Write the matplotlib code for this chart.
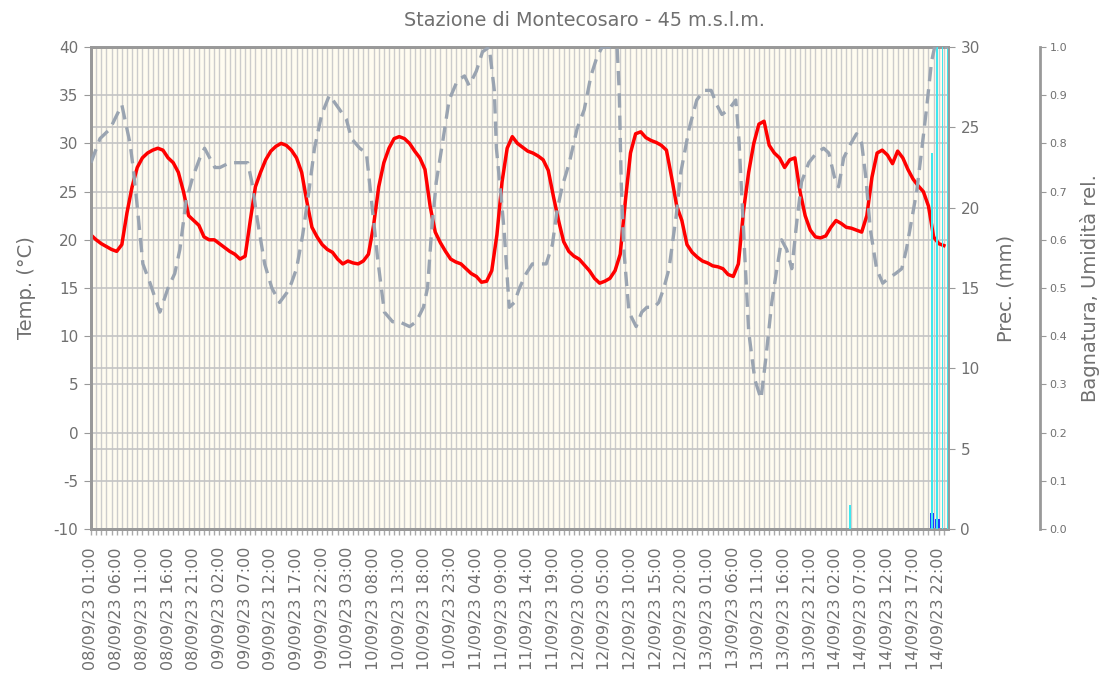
import numpy as np
import pandas as pd
import matplotlib
matplotlib.use('Agg')
import matplotlib.pyplot as plt
from matplotlib.ticker import MultipleLocator, FixedLocator

plt.rc('font', family='DejaVu Sans')
plt.rc('axes', unicode_minus=False)

# hourly temperature, starting 08/09/23 01:00
temp = [20.5, 20.0, 19.6, 19.3, 19.0, 18.8, 19.5, 22.8, 25.5, 27.5, 28.5, 29.0,
        29.3, 29.5, 29.3, 28.5, 28.0, 27.0, 25.0, 22.5, 22.0, 21.5, 20.3, 20.0,
        20.0, 19.6, 19.2, 18.8, 18.5, 18.0, 18.3, 22.0, 25.5, 27.0, 28.3, 29.2,
        29.7, 30.0, 29.8, 29.3, 28.5, 27.0, 24.0, 21.3, 20.3, 19.5, 19.0, 18.7,
        18.0, 17.5, 17.8, 17.6, 17.5, 17.8, 18.5, 21.5, 25.5, 28.0, 29.5, 30.5,
        30.7, 30.5, 30.0, 29.2, 28.5, 27.3, 23.5, 20.8, 19.7, 18.8, 18.0, 17.7,
        17.5, 17.0, 16.5, 16.2, 15.6, 15.7, 16.8, 20.5, 26.0, 29.5, 30.7, 30.0,
        29.6, 29.2, 29.0, 28.7, 28.3, 27.2, 24.5, 22.0, 19.8, 18.8, 18.3, 18.0,
        17.4, 16.8, 16.0, 15.5, 15.7, 16.0, 16.8, 18.5, 24.0, 29.0, 31.0, 31.2,
        30.6, 30.3, 30.1, 29.8, 29.3, 26.5, 23.5, 22.0, 19.5, 18.7, 18.2, 17.8,
        17.6, 17.3, 17.2, 17.0, 16.4, 16.2, 17.5, 23.0, 27.0, 30.0, 32.0, 32.3,
        29.8, 29.0, 28.5, 27.5, 28.3, 28.5, 25.0, 22.5, 21.0, 20.3, 20.2, 20.4,
        21.3, 22.0, 21.7, 21.3, 21.2, 21.0, 20.8, 22.5, 26.5, 29.0, 29.3, 28.8,
        27.9, 29.2, 28.5, 27.3, 26.3, 25.6, 25.0, 23.5, 20.3, 19.6, 19.4]

# relative humidity (0-1), read at these hours
hum_hours = [0, 1.75, 3.7, 6, 7.6, 8.2, 8.9, 10.1, 11.5, 13.4,
             15, 16.3, 17.3, 18.5, 19.8, 21.2, 22.1, 23.1, 24.1, 25.1,
             27, 28.9, 30.5, 31.3, 32.4, 33.8, 35.2, 36.7, 38.1, 39,
             40, 41.2, 42.4, 43.5, 44.9, 46.4, 48.4, 49.7, 50.7, 52.3,
             53.6, 54.6, 55.8, 57.1, 58.7, 60, 62, 63.3, 64.7, 65.5,
             66.3, 67.2, 68.4, 69.7, 71.3, 72.7, 73.6, 75, 76.2, 77.5,
             78.5, 78.9, 79.9, 80.4, 81.4, 82.4, 83.4, 84.7, 85.9, 87.2,
             88.6, 89.8, 90.7, 91.7, 93.1, 94.6, 96, 97.3, 98.5, 99.5,
             100.8, 102.4, 102.8, 103.2, 103.7, 104.7, 106.1, 107.2, 108.2, 109.6,
             110.5, 111.5, 112.5, 113.9, 114.8, 116.4, 117.9, 119.3, 120.7, 121.8,
             122.8, 124.1, 125.5, 126.1, 127.1, 128, 129.2, 130.4, 131.3, 132.5,
             133.5, 134.4, 135.4, 136.4, 137.4, 138.3, 139.7, 141.2, 142.6, 143.6,
             144.7, 145.5, 146.5, 147.9, 149, 150, 150.8, 151.7, 152.9, 154.1,
             155.2, 156.6, 157.8, 158.7, 159.7, 160.7, 161.5, 162.6, 163.6, 164.2,
             166.8]
hum_vals = [0.76, 0.81, 0.83, 0.88, 0.80, 0.75, 0.68, 0.55, 0.51, 0.45,
            0.50, 0.53, 0.58, 0.68, 0.73, 0.77, 0.79, 0.77, 0.75, 0.75,
            0.76, 0.76, 0.76, 0.72, 0.64, 0.55, 0.50, 0.47, 0.49, 0.51,
            0.54, 0.61, 0.70, 0.79, 0.86, 0.90, 0.87, 0.85, 0.81, 0.79,
            0.78, 0.68, 0.56, 0.45, 0.43, 0.43, 0.42, 0.43, 0.46, 0.50,
            0.62, 0.72, 0.80, 0.89, 0.93, 0.94, 0.92, 0.95, 0.99, 1.00,
            0.91, 0.79, 0.68, 0.62, 0.46, 0.47, 0.50, 0.53, 0.55, 0.55,
            0.55, 0.59, 0.66, 0.71, 0.76, 0.83, 0.87, 0.94, 0.98, 1.00,
            1.00, 1.00, 0.91, 0.72, 0.58, 0.45, 0.42, 0.45, 0.46, 0.46,
            0.47, 0.50, 0.54, 0.65, 0.74, 0.83, 0.89, 0.91, 0.91, 0.88,
            0.86, 0.87, 0.89, 0.81, 0.60, 0.41, 0.31, 0.27, 0.35, 0.47,
            0.54, 0.60, 0.58, 0.54, 0.64, 0.72, 0.76, 0.78, 0.79, 0.78,
            0.73, 0.71, 0.77, 0.80, 0.82, 0.80, 0.73, 0.62, 0.54, 0.51,
            0.52, 0.53, 0.54, 0.58, 0.64, 0.70, 0.77, 0.87, 0.97, 1.00,
            1.00]

# leaf wetness (0-1) and rain (mm)
wet_hours = [148, 164, 165, 166, 167]
wet_vals = [0.05, 0.78, 1.0, 1.0, 1.0]
rain_hours = [164, 165]
rain_vals = [1.0, 0.6]

start = pd.Timestamp('2023-09-08 01:00')
tick_hours = list(range(0, 166, 5))
tick_labels = [(start + pd.Timedelta(hours=h)).strftime('%d/%m/%y %H:%M') for h in tick_hours]

grey = '#999999'
txt = '#707070'
grid_c = '#CCCCCC'

fig = plt.figure(figsize=(11.08, 6.84), dpi=100)
ax = fig.add_axes([91/1108, 155/684, 857/1108, 482/684])
ax2 = ax.twinx()
ax3 = ax.twinx()

ax.set_facecolor('#FFFCF0')
ax.set_zorder(0)
ax2.set_zorder(1)
ax3.set_zorder(2)

hours = np.arange(len(temp))
ax.plot(hours, temp, color='#FF0000', lw=2.5, solid_joinstyle='round', zorder=3)

ax2.bar(np.array(rain_hours) - 0.25, rain_vals, width=0.8, color='#1E3CFF', zorder=2)
ax3.bar(np.array(wet_hours) - 0.3, wet_vals, width=0.33, color='#3DE8F0', zorder=2)
ax3.plot(hum_hours, hum_vals, color='#9AA4B1', lw=2.4, dashes=(4.3, 2.4), zorder=3)

ax.set_xlim(0, 166.8)
ax.set_ylim(-10, 40)
ax2.set_ylim(0, 30)
ax3.set_ylim(0, 1)

# grids (temperature major, precipitation as minor positions)
ax.yaxis.set_major_locator(MultipleLocator(5))
prec_grid = [-10 + 50 * p / 30 for p in range(5, 30, 5)]
ax.yaxis.set_minor_locator(FixedLocator(prec_grid))
ax.xaxis.set_major_locator(FixedLocator(tick_hours))
ax.xaxis.set_minor_locator(MultipleLocator(1))
ax.grid(True, which='both', axis='x', color=grid_c, lw=1.0)
ax.grid(True, which='major', axis='y', color='#C4C4C4', lw=1.2)
ax.grid(True, which='minor', axis='y', color='#C4C4C4', lw=1.2)
ax.set_axisbelow(True)

ax.set_xticklabels(tick_labels, rotation=90, fontsize=11.5, color=txt)
ax.tick_params(axis='x', which='both', direction='out', length=4, color='#AAAAAA',
               width=1, pad=9)
ax.tick_params(axis='y', which='major', direction='out', length=5, color=grey,
               labelsize=11, labelcolor=txt, pad=4)
ax.tick_params(axis='y', which='minor', length=0)

ax2.yaxis.set_major_locator(MultipleLocator(5))
ax2.tick_params(axis='y', direction='out', length=5, color=grey, labelsize=11,
                labelcolor=txt, pad=4)
ax3.yaxis.set_major_locator(MultipleLocator(0.1))
ax3.yaxis.set_major_formatter(plt.FuncFormatter(lambda v, p: '%.1f' % v))
ax3.tick_params(axis='y', direction='out', length=4, color=grey, labelsize=8,
                labelcolor=txt, pad=3)

for a in (ax, ax2):
    for s in a.spines.values():
        s.set_color(grey)
        s.set_linewidth(2)
for k in ('left', 'top', 'bottom'):
    ax3.spines[k].set_visible(False)
ax3.spines['right'].set_position(('outward', 66))
ax3.spines['right'].set_color(grey)
ax3.spines['right'].set_linewidth(2)

ax.set_ylabel('Temp. (°C)', fontsize=14, color=txt, labelpad=13)
ax2.set_ylabel('Prec. (mm)', fontsize=14, color=txt, labelpad=12)
ax3.set_ylabel('Bagnatura, Umidità rel.', fontsize=14, color=txt, labelpad=9)

fig.text(584/1108, 1 - 21/684, 'Stazione di Montecosaro - 45 m.s.l.m.',
         ha='center', va='center', fontsize=13.8, color=txt)

fig.savefig('out.png', dpi=100)
